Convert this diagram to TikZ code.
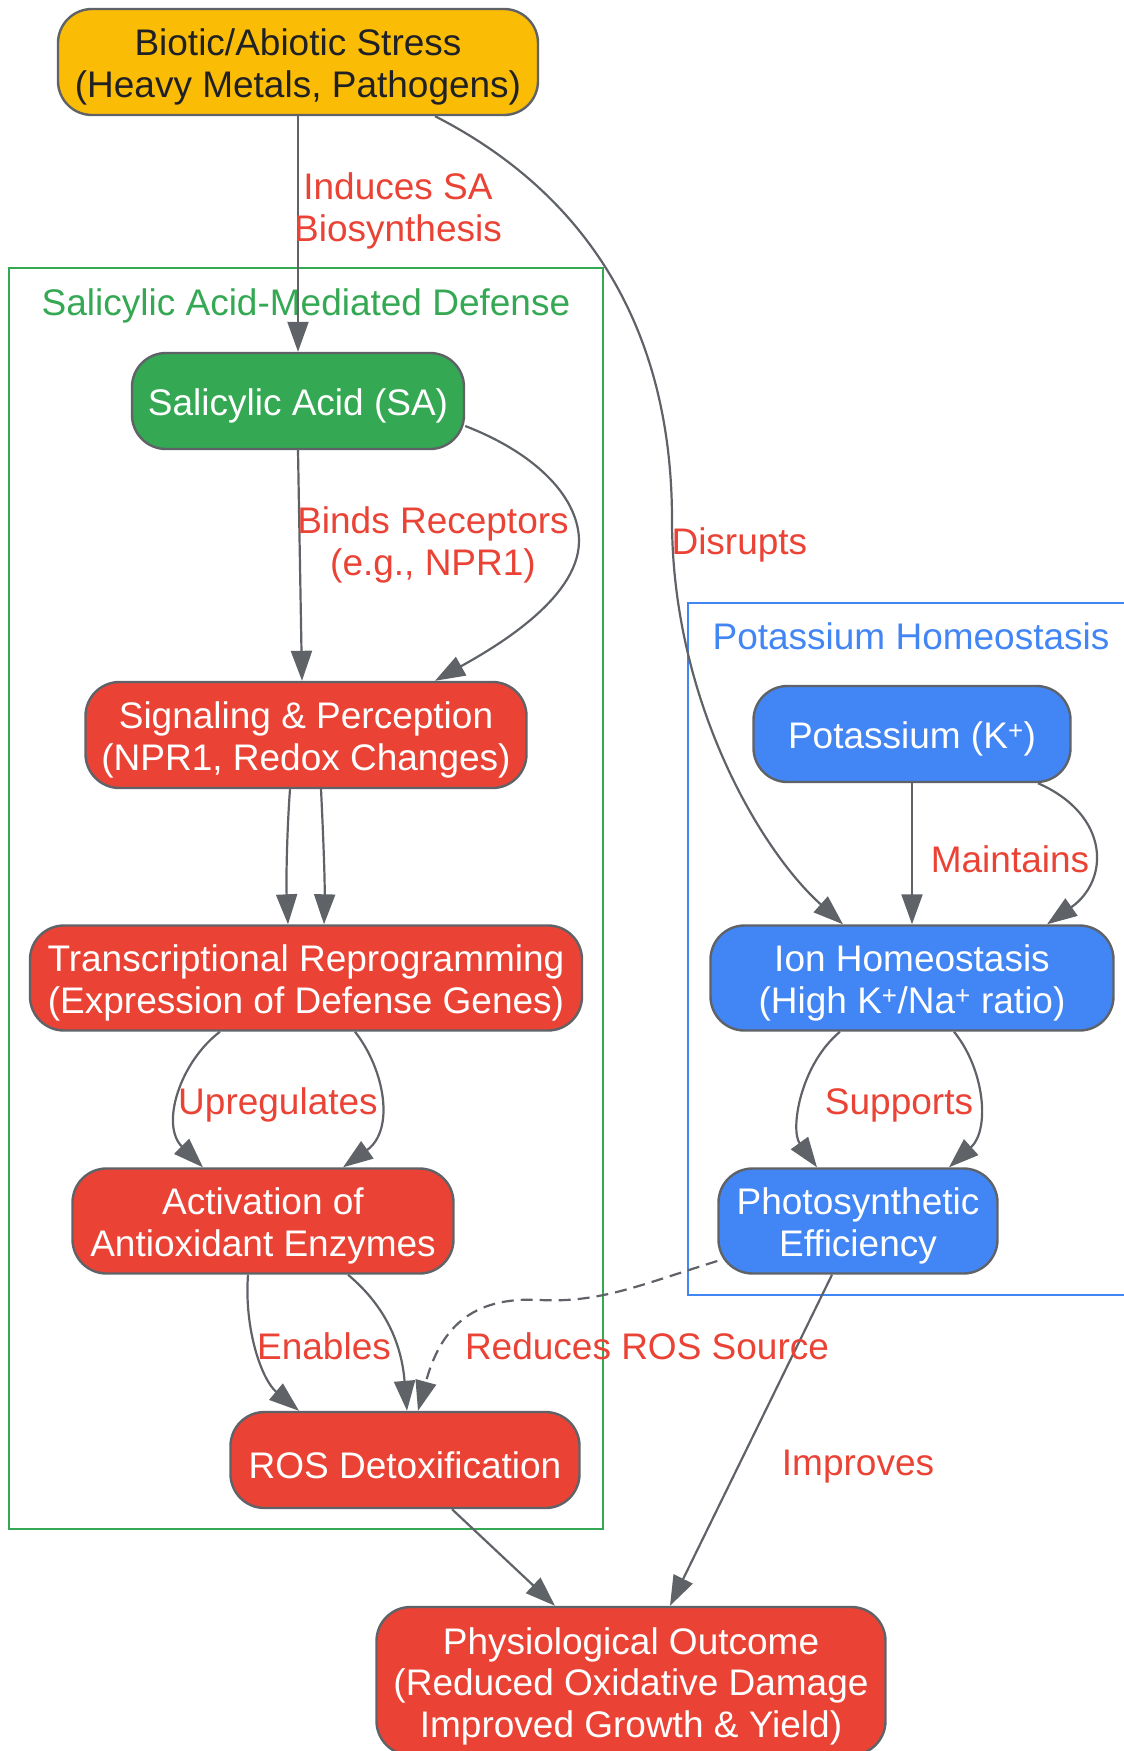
\documentclass[tikz,border=0pt]{standalone}
\usepackage{fontspec}
\setmainfont{Liberation Sans}
\usetikzlibrary{arrows.meta}

\definecolor{stressyellow}{HTML}{FBBC05}
\definecolor{sagreen}{HTML}{34A853}
\definecolor{rosred}{HTML}{EA4335}
\definecolor{kblue}{HTML}{4285F4}
\definecolor{edgegray}{HTML}{5F6368}
\definecolor{darktext}{HTML}{202124}

\newcommand{\lift}{\rule{0pt}{37pt}}

\tikzset{
  box/.style={draw=edgegray, line width=2.4pt, rounded corners=34pt, align=center,
    text=white, inner sep=0pt, font=\fontsize{37pt}{41.5pt}\selectfont,
    execute at begin node={\lift}},
  stressbox/.style={box, fill=stressyellow, text=darktext},
  sabox/.style={box, fill=sagreen},
  redbox/.style={box, fill=rosred},
  kbox/.style={box, fill=kblue},
  link/.style={draw=edgegray, line width=2.2pt, -{Triangle[length=30pt,width=21pt]}},
  elabel/.style={text=rosred, align=center, font=\fontsize{37pt}{41.5pt}\selectfont},
  ctitle/.style={font=\fontsize{37pt}{41.5pt}\selectfont},
}

\begin{document}
\begin{tikzpicture}[x=1pt, y=-1pt]
        \useasboundingbox (0,0) rectangle (1124,1751);

        % Draw the clusters
        \draw[sagreen, line width=2pt] (9,268) rectangle (603,1529);
        \node[ctitle, text=sagreen] (satitle) at (306,306) {Salicylic Acid-Mediated Defense};
        \draw[kblue, line width=2pt] (688,603) rectangle (1130,1295);
        \node[ctitle, text=kblue] (ktitle) at (911,636) {Potassium Homeostasis};

        % Define the nodes
        \node[stressbox, minimum width=480pt, minimum height=106pt] (stress) at (298,62) {\lift Biotic/Abiotic Stress\\(Heavy Metals, Pathogens)};
        \node[sabox, minimum width=332pt, minimum height=96pt] (sa) at (298,401) {Salicylic Acid (SA)};
        \node[redbox, minimum width=441pt, minimum height=106pt] (sig) at (306,735) {\lift Signaling \& Perception\\(NPR1, Redox Changes)};
        \node[redbox, minimum width=552pt, minimum height=105pt] (trans) at (306,978) {\lift Transcriptional Reprogramming\\(Expression of Defense Genes)};
        \node[redbox, minimum width=381pt, minimum height=105pt] (act) at (263,1221) {\lift Activation of\\Antioxidant Enzymes};
        \node[redbox, minimum width=349pt, minimum height=96pt] (ros) at (405,1460) {ROS Detoxification};
        \node[redbox, minimum width=509pt, minimum height=148pt] (phys) at (631,1681) {\lift Physiological Outcome\\(Reduced Oxidative Damage\\Improved Growth \& Yield)};
        \node[kbox, minimum width=317pt, minimum height=96pt] (pot) at (912,734) {Potassium (K\textsuperscript{+})};
        \node[kbox, minimum width=403pt, minimum height=105pt] (ion) at (912,978) {\lift Ion Homeostasis\\(High K\textsuperscript{+}/Na\textsuperscript{+} ratio)};
        \node[kbox, minimum width=279pt, minimum height=105pt] (photo) at (858,1221) {\lift Photosynthetic\\Efficiency};

        % Draw the lines
        \draw[link] (stress.south) -- (sa.north);
        \draw[link] ([xshift=137pt]stress.south) .. controls (560,180) and (672,300) .. (672,520)
                    .. controls (672,700) and (760,850) .. ([xshift=-69pt]ion.north);
        \draw[link] (sa.south) -- ([xshift=-4pt]sig.north);
        \draw[link] ([yshift=-25pt]sa.east) .. controls (540,455) and (579,500) .. (579,541)
                    .. controls (579,600) and (490,650) .. ([xshift=129pt]sig.north);
        \draw[link] ([xshift=-16pt]sig.south) .. controls (287,830) and (286,880) .. ([xshift=-18pt]trans.north);
        \draw[link] ([xshift=15pt]sig.south) .. controls (323,830) and (325,880) .. ([xshift=18pt]trans.north);
        \draw[link] ([xshift=-86pt]trans.south) .. controls (180,1062) and (160,1125) .. ([xshift=-60pt]act.north);
        \draw[link] ([xshift=49pt]trans.south) .. controls (385,1070) and (395,1130) .. ([xshift=80pt]act.north);
        \draw[link] ([xshift=-15pt]act.south) .. controls (244,1330) and (262,1380) .. ([xshift=-106pt]ros.north);
        \draw[link] ([xshift=85pt]act.south) .. controls (390,1310) and (402,1350) .. ([xshift=2pt]ros.north);
        \draw[link, dashed, dash pattern=on 12pt off 7pt] ([yshift=-40pt]photo.west) .. controls (640,1285) and (600,1303) .. (540,1300)
                    .. controls (470,1296) and (440,1330) .. ([xshift=13pt]ros.north);
        \draw[link] ([xshift=47pt]ros.south) -- ([xshift=-76pt]phys.north);
        \draw[link] ([xshift=-26pt]photo.south) -- ([xshift=39pt]phys.north);
        \draw[link] (pot.south) -- (ion.north);
        \draw[link] ([xshift=126pt]pot.south) .. controls (1110,815) and (1110,880) .. ([xshift=135pt]ion.north);
        \draw[link] ([xshift=-72pt]ion.south) .. controls (800,1065) and (790,1130) .. ([xshift=-41pt]photo.north);
        \draw[link] ([xshift=42pt]ion.south) .. controls (985,1070) and (990,1130) .. ([xshift=91pt]photo.north);

        % Edge labels
        \node[elabel] (linduce) at (398,211) {Induces SA\\Biosynthesis};
        \node[elabel, anchor=west] (ldisrupt) at (668,545) {Disrupts};
        \node[elabel] (lbind) at (433,545) {Binds Receptors\\(e.g., NPR1)};
        \node[elabel] (lupreg) at (278,1105) {Upregulates};
        \node[elabel] (lenable) at (324,1346) {Enables};
        \node[elabel] (lreduce) at (647,1346) {Reduces ROS Source};
        \node[elabel] (limprove) at (858,1467) {Improves};
        \node[elabel] (lmaintain) at (1010,859) {Maintains};
        \node[elabel] (lsupport) at (899,1105) {Supports};
      \end{tikzpicture}
\end{document}
